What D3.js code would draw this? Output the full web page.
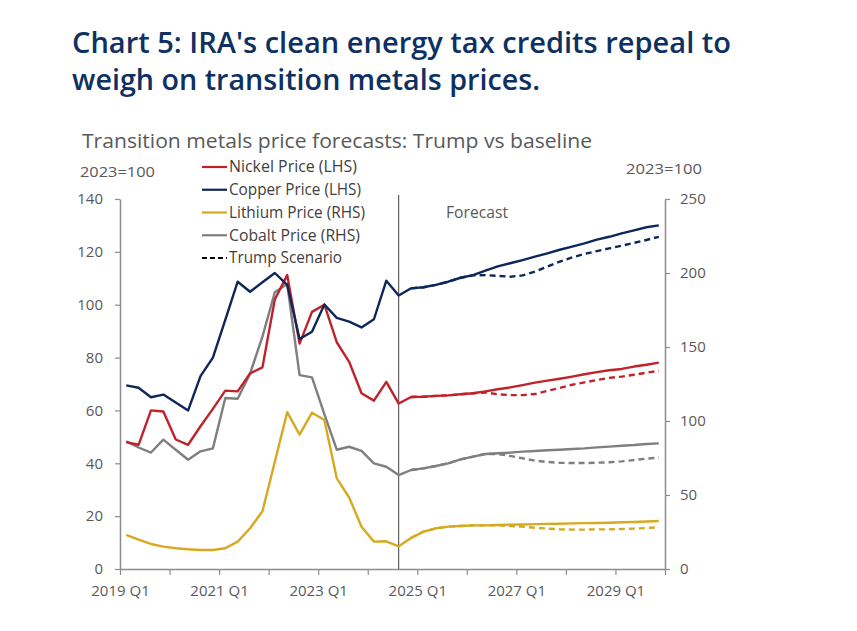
<!DOCTYPE html>
<html>
<head>
<meta charset="utf-8">
<script src="https://cdn.jsdelivr.net/npm/d3@7"></script>
<style>
  html, body { margin: 0; padding: 0; background: #ffffff; }
  svg { display: block; }
  text { font-family: "Segoe UI", "Open Sans", "Noto Sans", sans-serif; }
</style>
</head>
<body>
<div id="chart"></div>
<script>
// ---------------- DATA ----------------
const years = [2019, 2020, 2021, 2022, 2023, 2024, 2025, 2026, 2027, 2028, 2029];
const quarterNames = ["Q1", "Q2", "Q3", "Q4"];
const xTickLabels = ["2019 Q1", "2021 Q1", "2023 Q1", "2025 Q1", "2027 Q1", "2029 Q1"];
const leftTicks = [0, 20, 40, 60, 80, 100, 120, 140];
const rightTicks = [0, 50, 100, 150, 200, 250];

// Baseline (solid) series, 2019 Q1 .. 2029 Q4
const nickel = [48, 47, 60, 59.6, 49, 47, 54, 60.6, 67.5, 67.2, 74, 76.3,
  102, 111.2, 85.3, 97.3, 100, 85.8, 78.4, 66.5, 63.7, 70.8, 62.6, 65.1,
  65.2, 65.5, 65.7, 66.1, 66.5, 67.2, 68, 68.7, 69.6, 70.5, 71.3, 72,
  72.8, 73.7, 74.5, 75.2, 75.7, 76.6, 77.3, 78.1];
const copper = [69.5, 68.6, 65, 66, 63, 60, 73, 80, 94.3, 108.7, 104.9, 108.5,
  112, 107.5, 87, 89.8, 100.1, 95, 93.6, 91.4, 94.5, 109.1, 103.5, 106.2,
  106.6, 107.5, 108.7, 110.2, 111.2, 112.9, 114.5, 115.7, 116.9, 118.2, 119.4, 120.8,
  122, 123.2, 124.6, 125.7, 127, 128.1, 129.3, 130];
const lithium = [23, 19.8, 16.9, 15.1, 14, 13.3, 12.8, 12.8, 14, 18.5, 27.5, 39,
  72.5, 106, 90.8, 105.6, 100.7, 61.3, 48.3, 28.6, 18.5, 18.7, 15.3, 21,
  25.2, 27.5, 28.6, 29.1, 29.5, 29.5, 29.7, 30, 30.1, 30.3, 30.5, 30.6,
  30.8, 31, 31.1, 31.3, 31.6, 31.8, 32.1, 32.4];
const cobalt = [86.2, 82.1, 78.7, 87.4, 80.6, 73.8, 79.5, 81.5, 115.5, 115, 132, 157,
  187, 192.5, 131, 129.5, 104.6, 80.6, 82.6, 79.8, 71.4, 69.1, 63.5, 66.9,
  68, 69.6, 71.4, 74.1, 75.9, 77.7, 78.2, 78.6, 79.3, 79.7, 80.2, 80.6,
  81.1, 81.5, 82.2, 82.7, 83.3, 83.8, 84.5, 84.9];

// Trump scenario (dashed) series, 2024 Q4 .. 2029 Q4
const trumpStart = "2024 Q4";
const nickelTrump = [65.1, 65.2, 65.5, 65.7, 66.1, 66.5, 66.8, 66.1, 65.8, 65.8, 66.2,
  67.4, 68.5, 69.7, 70.6, 71.5, 72.3, 72.8, 73.5, 74.3, 75];
const copperTrump = [106.2, 106.6, 107.5, 108.7, 110.2, 111.1, 111.2, 110.9, 110.6, 111.1, 112.5,
  114.4, 116.3, 117.9, 119.2, 120.3, 121.3, 122.3, 123.4, 124.5, 125.7];
const lithiumTrump = [21, 25.2, 27.5, 28.6, 29.1, 29.5, 29.5, 29.5, 29.1, 28.6, 27.9,
  27.3, 26.8, 26.6, 26.6, 26.8, 26.8, 27, 27.3, 27.7, 28.2];
const cobaltTrump = [66.9, 68, 69.6, 71.4, 74.1, 75.9, 77.7, 77.7, 76.4, 74.8, 73.2,
  72.3, 71.8, 71.6, 71.6, 71.8, 72.1, 72.7, 73.6, 74.6, 75.2];

const forecastStart = "2024 Q3";

const quarters = [];
years.forEach(y => quarterNames.forEach(q => quarters.push(y + " " + q)));

// ---------------- LAYOUT ----------------
const W = 857, H = 631;
const plot = { left: 120, right: 665, top: 199, bottom: 569 };

const colors = {
  nickel: "#C0222B",
  copper: "#0E2759",
  lithium: "#D6A920",
  cobalt: "#7F7F7F",
  axis: "#8C8C8C",
  tickText: "#595959",
  title: "#0E3161",
  subtitle: "#595959"
};

const svg = d3.select("#chart").append("svg")
  .attr("width", W).attr("height", H);

const x = d3.scaleBand().domain(quarters).range([plot.left, plot.right]).padding(0);
const xc = q => x(q) + x.bandwidth() / 2;
const xIdx = d3.scaleLinear().domain([0, quarters.length]).range([plot.left, plot.right]);
const yL = d3.scaleLinear().domain([0, 140]).range([plot.bottom, plot.top]);
const yR = d3.scaleLinear().domain([0, 250]).range([plot.bottom, plot.top]);

// ---------------- TITLES ----------------
function squeeze(sel, target) {
  sel.attr("textLength", target).attr("lengthAdjust", "spacingAndGlyphs");
}

const t1 = svg.append("text").attr("x", 72).attr("y", 53)
  .attr("font-size", 29).attr("font-weight", 600).attr("fill", colors.title)
  .text("Chart 5: IRA's clean energy tax credits repeal to");
squeeze(t1, 659);
const t2 = svg.append("text").attr("x", 72).attr("y", 90)
  .attr("font-size", 29).attr("font-weight", 600).attr("fill", colors.title)
  .text("weigh on transition metals prices.");
squeeze(t2, 468);
const st = svg.append("text").attr("x", 82).attr("y", 148)
  .attr("font-size", 20).attr("fill", colors.subtitle)
  .text("Transition metals price forecasts: Trump vs baseline");
squeeze(st, 510);

const u1 = svg.append("text").attr("x", 80).attr("y", 177).attr("font-size", 15)
  .attr("fill", colors.tickText).text("2023=100");
squeeze(u1, 75);
const u2 = svg.append("text").attr("x", 626).attr("y", 174).attr("font-size", 15)
  .attr("fill", colors.tickText).text("2023=100");
squeeze(u2, 76);

// ---------------- AXES ----------------
function styleAxis(g) {
  g.select(".domain").attr("stroke", colors.axis).attr("stroke-width", 1.5);
  g.selectAll(".tick line").attr("stroke", colors.axis).attr("stroke-width", 1.2);
  g.selectAll(".tick text").attr("fill", colors.tickText)
    .attr("font-size", 15).attr("font-family", '"Segoe UI", "Open Sans", "Noto Sans", sans-serif');
}

svg.append("g").attr("transform", `translate(${plot.left},0)`)
  .call(d3.axisLeft(yL).tickValues(leftTicks).tickSize(5).tickSizeOuter(0).tickPadding(12))
  .call(styleAxis);

svg.append("g").attr("transform", `translate(${plot.right},0)`)
  .call(d3.axisRight(yR).tickValues(rightTicks).tickSize(5).tickSizeOuter(0).tickPadding(10))
  .call(styleAxis);

const xTickVals = d3.range(0, quarters.length + 1, 4);
svg.append("g").attr("transform", `translate(0,${plot.bottom})`)
  .call(d3.axisBottom(xIdx).tickValues(xTickVals).tickSize(6).tickSizeOuter(0).tickPadding(10)
    .tickFormat(i => {
      const lbl = quarters[i];
      return xTickLabels.includes(lbl) ? lbl : "";
    }))
  .call(styleAxis);

// ---------------- FORECAST DIVIDER ----------------
svg.append("line")
  .attr("x1", xc(forecastStart)).attr("x2", xc(forecastStart))
  .attr("y1", 195).attr("y2", plot.bottom)
  .attr("stroke", "#404040").attr("stroke-width", 1);
const fc = svg.append("text").attr("x", 446).attr("y", 218).attr("font-size", 15.5)
  .attr("fill", colors.tickText).text("Forecast");
squeeze(fc, 62);

// ---------------- LINES ----------------
const series = [
  { name: "cobalt", vals: cobalt, trump: cobaltTrump, y: yR, color: colors.cobalt },
  { name: "lithium", vals: lithium, trump: lithiumTrump, y: yR, color: colors.lithium },
  { name: "nickel", vals: nickel, trump: nickelTrump, y: yL, color: colors.nickel },
  { name: "copper", vals: copper, trump: copperTrump, y: yL, color: colors.copper }
];

const startIdx = quarters.indexOf(trumpStart);

series.forEach(s => {
  const solid = s.vals.map((v, i) => [quarters[i], v]);
  const dashed = s.trump.map((v, i) => [quarters[startIdx + i], v]);
  const line = d3.line().x(d => xc(d[0])).y(d => s.y(d[1]));
  svg.append("path").datum(solid).attr("d", line)
    .attr("fill", "none").attr("stroke", s.color).attr("stroke-width", 2.4)
    .attr("stroke-linejoin", "round");
  svg.append("path").datum(dashed).attr("d", line)
    .attr("fill", "none").attr("stroke", s.color).attr("stroke-width", 2.4)
    .attr("stroke-dasharray", "6,4");
});

// ---------------- LEGEND ----------------
const legendItems = [
  { label: "Nickel Price (LHS)", color: colors.nickel, dash: null, w: 128 },
  { label: "Copper Price (LHS)", color: colors.copper, dash: null, w: 132 },
  { label: "Lithium Price (RHS)", color: colors.lithium, dash: null, w: 136 },
  { label: "Cobalt Price (RHS)", color: colors.cobalt, dash: null, w: 131 },
  { label: "Trump Scenario", color: "#000000", dash: "5,3", w: 113 }
];
const lg = svg.append("g").attr("transform", "translate(202,167)");
legendItems.forEach((d, i) => {
  const row = lg.append("g").attr("transform", `translate(0,${i * 22.75})`);
  row.append("line").attr("x1", 0).attr("x2", 25).attr("y1", 0).attr("y2", 0)
    .attr("stroke", d.color).attr("stroke-width", 2.2)
    .attr("stroke-dasharray", d.dash);
  const t = row.append("text").attr("x", 27).attr("y", 0).attr("dy", "0.35em")
    .attr("font-size", 15.5).attr("fill", "#404040").text(d.label);
  squeeze(t, d.w);
});
</script>
</body>
</html>
